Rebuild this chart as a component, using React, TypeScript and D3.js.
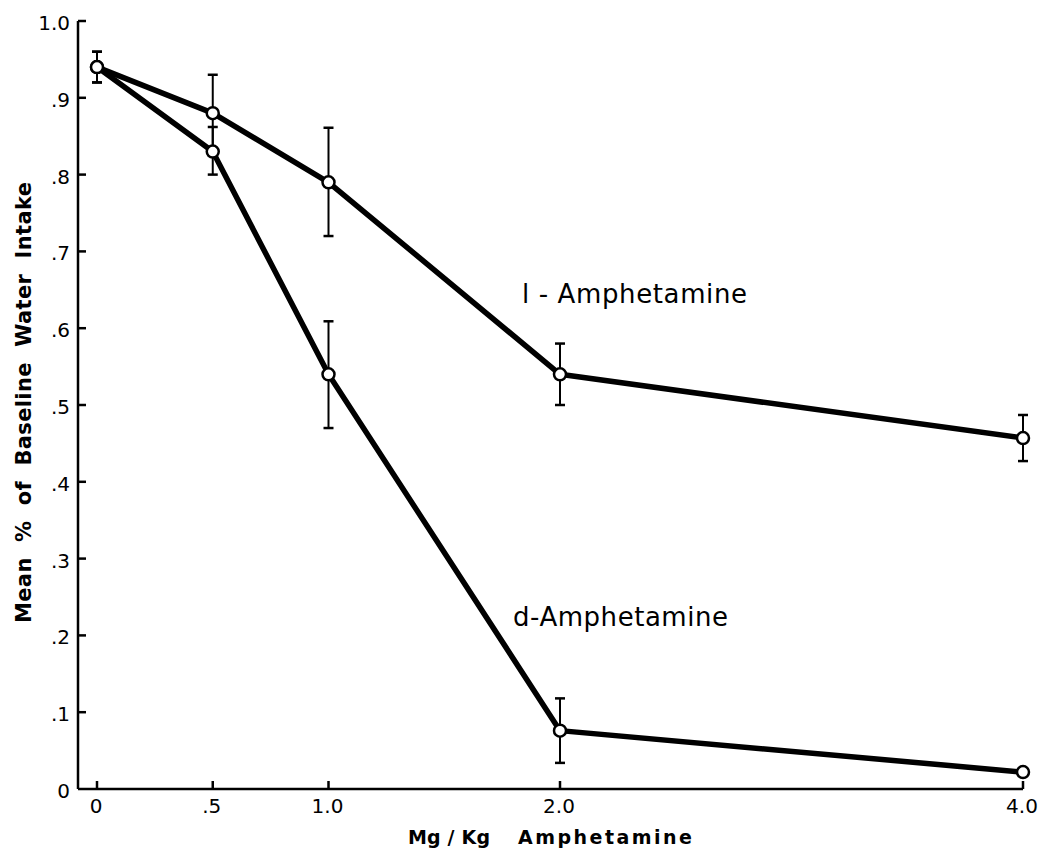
import React from "react";
import * as d3 from "d3";

const doses = [0, 0.5, 1.0, 2.0, 4.0];
const doseLabels = ["0", ".5", "1.0", "2.0", "4.0"];
const yTicks = [0, 0.1, 0.2, 0.3, 0.4, 0.5, 0.6, 0.7, 0.8, 0.9, 1.0];
const yTickLabels = ["0", ".1", ".2", ".3", ".4", ".5", ".6", ".7", ".8", ".9", "1.0"];

const lMean = [0.94, 0.88, 0.79, 0.54, 0.457];
const lUpper = [0.96, 0.93, 0.861, 0.58, 0.487];
const lLower = [0.92, 0.83, 0.72, 0.5, 0.427];

const dMean = [0.94, 0.83, 0.54, 0.076, 0.022];
const dUpper = [0.96, 0.862, 0.609, 0.118, 0.022];
const dLower = [0.92, 0.8, 0.47, 0.034, 0.022];

const series = [
  { name: "l - Amphetamine", mean: lMean, upper: lUpper, lower: lLower },
  { name: "d-Amphetamine", mean: dMean, upper: dUpper, lower: dLower },
];

const FONT = "'DejaVu Sans', sans-serif";

export default function App() {
  const W = 1040;
  const H = 848;
  const x = d3.scaleLinear().domain([0, 4]).range([97, 1023]);
  const y = d3.scaleLinear().domain([0, 1]).range([789, 21]);
  const axisX = 78;
  const line = d3
    .line<number>()
    .x((_, i) => x(doses[i]))
    .y((v) => y(v));

  return (
    <svg
      width={W}
      height={H}
      style={{ position: "absolute", left: 0, top: 0, background: "#fff" }}
      fontFamily={FONT}
    >
      <rect x={0} y={0} width={W} height={H} fill="#fff" />
      {/* axes */}
      <line x1={axisX} y1={y(1)} x2={axisX} y2={y(0)} stroke="#000" strokeWidth={2.5} />
      <line x1={axisX} y1={y(0)} x2={x(4)} y2={y(0)} stroke="#000" strokeWidth={2.5} />
      {yTicks.map((t, i) =>
        t === 0 ? null : (
          <line key={"yt" + i} x1={axisX} x2={axisX + 8} y1={y(t)} y2={y(t)} stroke="#000" strokeWidth={2.5} />
        )
      )}
      {yTicks.map((t, i) => (
        <text
          key={"yl" + i}
          x={70}
          y={y(t) + 2}
          textAnchor="end"
          dominantBaseline="central"
          fontSize={20}
        >
          {yTickLabels[i]}
        </text>
      ))}
      {doses.map((d, i) => (
        <line key={"xt" + i} x1={x(d)} x2={x(d)} y1={y(0)} y2={y(0) - 8} stroke="#000" strokeWidth={2.5} />
      ))}
      {doses.map((d, i) => (
        <text key={"xl" + i} x={x(d) - 1} y={813} textAnchor="middle" fontSize={20}>
          {doseLabels[i]}
        </text>
      ))}
      {/* axis titles */}
      <text x={408} y={844} fontSize={19} fontWeight={600} textLength={82} lengthAdjust="spacing">
        Mg / Kg
      </text>
      <text x={518} y={844} fontSize={19} fontWeight={600} textLength={174} lengthAdjust="spacing">
        Amphetamine
      </text>
      <text
        transform={`translate(31, ${(182 + 623) / 2}) rotate(-90)`}
        textAnchor="middle"
        fontSize={21}
        fontWeight={700}
        textLength={441}
        lengthAdjust="spacing"
        style={{ whiteSpace: "pre" }}
      >
        Mean  %  of  Baseline  Water  Intake
      </text>
      {/* series */}
      {series.map((s, si) => (
        <g key={"s" + si}>
          <path d={line(s.mean) || ""} fill="none" stroke="#000" strokeWidth={5.5} strokeLinejoin="round" />
        </g>
      ))}
      {series.map((s, si) => (
        <g key={"e" + si}>
          {doses.map((d, i) =>
            s.upper[i] - s.lower[i] < 0.005 ? null : (
              <g key={i}>
                <line x1={x(d)} x2={x(d)} y1={y(s.upper[i])} y2={y(s.lower[i])} stroke="#000" strokeWidth={2} />
                <line x1={x(d) - 5} x2={x(d) + 5} y1={y(s.upper[i])} y2={y(s.upper[i])} stroke="#000" strokeWidth={2.5} />
                <line x1={x(d) - 5} x2={x(d) + 5} y1={y(s.lower[i])} y2={y(s.lower[i])} stroke="#000" strokeWidth={2.5} />
              </g>
            )
          )}
        </g>
      ))}
      {series.map((s, si) => (
        <g key={"c" + si}>
          {doses.map((d, i) => (
            <circle key={i} cx={x(d)} cy={y(s.mean[i])} r={6} fill="#fff" stroke="#000" strokeWidth={2.5} />
          ))}
        </g>
      ))}
      {/* annotations */}
      <text x={522} y={303} fontSize={26} textLength={225} lengthAdjust="spacing">
        l - Amphetamine
      </text>
      <text x={513} y={626} fontSize={26} textLength={215} lengthAdjust="spacing">
        d-Amphetamine
      </text>
    </svg>
  );
}
